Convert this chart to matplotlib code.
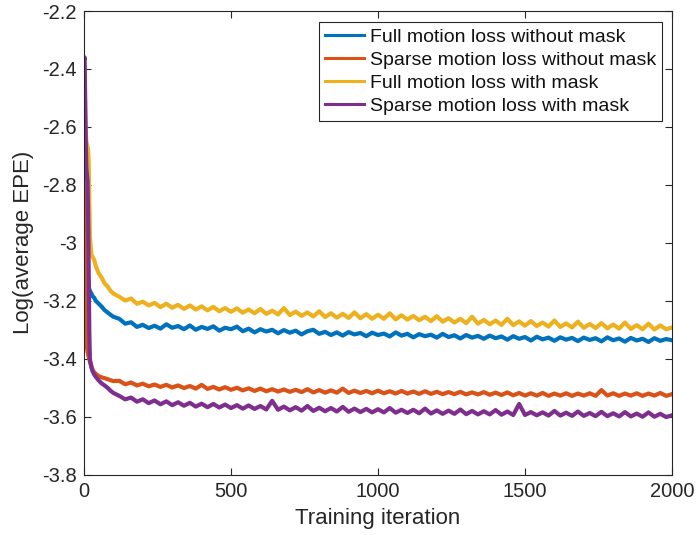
import numpy as np
import matplotlib
matplotlib.use("Agg")
import matplotlib.pyplot as plt
from matplotlib.ticker import FormatStrFormatter

# ---------------- data ----------------
early_iters = [0, 2, 4, 6, 8, 10, 12, 14, 16, 18, 20, 25, 30, 35, 40, 50, 60, 70, 80, 90, 100]
grid_iters = list(range(120, 2001, 20))
iterations = early_iters + grid_iters

full_no_mask_early = [-2.42, -2.55, -2.75, -2.90, -3.00, -3.07, -3.11, -3.13, -3.15, -3.16, -3.165,
                      -3.175, -3.185, -3.19, -3.20, -3.21, -3.22, -3.232, -3.24, -3.248, -3.255]
full_no_mask = [
    -3.262, -3.279, -3.274, -3.290, -3.283, -3.294, -3.286, -3.296, -3.281, -3.293,
    -3.287, -3.298, -3.285, -3.300, -3.290, -3.297, -3.288, -3.303, -3.293, -3.298,
    -3.289, -3.305, -3.296, -3.309, -3.298, -3.306, -3.300, -3.312, -3.301, -3.310,
    -3.303, -3.316, -3.305, -3.300, -3.314, -3.307, -3.318, -3.309, -3.320, -3.308,
    -3.316, -3.311, -3.322, -3.310, -3.318, -3.313, -3.323, -3.309, -3.320, -3.314,
    -3.326, -3.315, -3.322, -3.317, -3.327, -3.314, -3.325, -3.319, -3.330, -3.318,
    -3.327, -3.321, -3.331, -3.320, -3.329, -3.323, -3.334, -3.322, -3.331, -3.325,
    -3.337, -3.324, -3.333, -3.327, -3.338, -3.326, -3.334, -3.328, -3.339, -3.327,
    -3.335, -3.329, -3.340, -3.326, -3.336, -3.330, -3.341, -3.328, -3.337, -3.331,
    -3.342, -3.329, -3.338, -3.332, -3.336]

sparse_no_mask_early = [-2.47, -2.80, -3.10, -3.28, -3.34, -3.36, -3.375, -3.385, -3.395, -3.40, -3.41,
                        -3.425, -3.44, -3.447, -3.452, -3.46, -3.464, -3.467, -3.47, -3.474, -3.477]
sparse_no_mask = [
    -3.476, -3.488, -3.482, -3.492, -3.486, -3.495, -3.489, -3.497, -3.490, -3.499,
    -3.492, -3.501, -3.494, -3.503, -3.490, -3.504, -3.497, -3.506, -3.498, -3.507,
    -3.500, -3.509, -3.502, -3.511, -3.503, -3.512, -3.505, -3.513, -3.506, -3.514,
    -3.507, -3.515, -3.505, -3.516, -3.508, -3.517, -3.509, -3.517, -3.503, -3.518,
    -3.510, -3.518, -3.511, -3.519, -3.510, -3.519, -3.512, -3.520, -3.511, -3.520,
    -3.513, -3.521, -3.512, -3.521, -3.514, -3.522, -3.515, -3.522, -3.514, -3.523,
    -3.516, -3.523, -3.515, -3.524, -3.517, -3.525, -3.516, -3.526, -3.518, -3.527,
    -3.519, -3.527, -3.518, -3.528, -3.520, -3.527, -3.519, -3.528, -3.520, -3.527,
    -3.519, -3.528, -3.508, -3.527, -3.519, -3.528, -3.520, -3.527, -3.519, -3.528,
    -3.520, -3.527, -3.518, -3.528, -3.522]

full_mask_early = [-2.37, -2.45, -2.55, -2.62, -2.65, -2.66, -2.67, -2.68, -2.72, -2.85, -2.98,
                   -3.04, -3.05, -3.06, -3.08, -3.105, -3.12, -3.14, -3.15, -3.165, -3.175]
full_mask = [
    -3.186, -3.199, -3.192, -3.210, -3.203, -3.216, -3.207, -3.222, -3.210, -3.224,
    -3.214, -3.228, -3.216, -3.230, -3.219, -3.233, -3.221, -3.236, -3.225, -3.238,
    -3.226, -3.241, -3.230, -3.243, -3.228, -3.245, -3.234, -3.247, -3.225, -3.249,
    -3.237, -3.252, -3.240, -3.254, -3.236, -3.256, -3.243, -3.258, -3.245, -3.259,
    -3.240, -3.260, -3.246, -3.262, -3.248, -3.262, -3.243, -3.264, -3.250, -3.265,
    -3.252, -3.267, -3.255, -3.270, -3.253, -3.272, -3.260, -3.275, -3.262, -3.277,
    -3.255, -3.279, -3.266, -3.281, -3.268, -3.283, -3.262, -3.284, -3.271, -3.286,
    -3.270, -3.287, -3.275, -3.289, -3.268, -3.290, -3.278, -3.292, -3.272, -3.293,
    -3.280, -3.294, -3.277, -3.295, -3.282, -3.296, -3.275, -3.297, -3.284, -3.298,
    -3.279, -3.299, -3.285, -3.298, -3.292]

sparse_mask_early = [-2.37, -2.36, -2.50, -2.65, -2.74, -2.765, -2.785, -2.90, -3.10, -3.30, -3.40,
                     -3.43, -3.445, -3.455, -3.462, -3.475, -3.485, -3.492, -3.50, -3.51, -3.518]
sparse_mask = [
    -3.528, -3.540, -3.534, -3.548, -3.540, -3.553, -3.544, -3.557, -3.547, -3.560,
    -3.550, -3.562, -3.552, -3.565, -3.555, -3.567, -3.556, -3.568, -3.558, -3.570,
    -3.560, -3.572, -3.561, -3.573, -3.563, -3.575, -3.545, -3.576, -3.565, -3.578,
    -3.567, -3.579, -3.563, -3.580, -3.569, -3.581, -3.570, -3.582, -3.566, -3.583,
    -3.572, -3.584, -3.573, -3.585, -3.574, -3.585, -3.570, -3.586, -3.576, -3.587,
    -3.576, -3.588, -3.572, -3.589, -3.578, -3.590, -3.579, -3.590, -3.575, -3.591,
    -3.580, -3.592, -3.581, -3.592, -3.577, -3.593, -3.582, -3.594, -3.556, -3.594,
    -3.584, -3.595, -3.585, -3.596, -3.580, -3.596, -3.586, -3.597, -3.582, -3.597,
    -3.587, -3.598, -3.583, -3.598, -3.588, -3.599, -3.584, -3.599, -3.589, -3.600,
    -3.585, -3.600, -3.590, -3.601, -3.595]

series_labels = ["Full motion loss without mask", "Sparse motion loss without mask",
                 "Full motion loss with mask", "Sparse motion loss with mask"]
series_values = [full_no_mask_early + full_no_mask,
                 sparse_no_mask_early + sparse_no_mask,
                 full_mask_early + full_mask,
                 sparse_mask_early + sparse_mask]
x_ticks = [0, 500, 1000, 1500, 2000]
y_ticks = [-3.8, -3.6, -3.4, -3.2, -3.0, -2.8, -2.6, -2.4, -2.2]

# ---------------- style ----------------
colors = ["#0072BD", "#D95319", "#EDB120", "#7E2F8E"]
plt.rcParams["font.family"] = ["Liberation Sans", "DejaVu Sans"]
plt.rcParams["axes.unicode_minus"] = False
dark = "#262626"

fig = plt.figure(figsize=(6.97, 5.35), dpi=100)
ax = fig.add_axes([84 / 697, 1 - 474.7 / 535, 588 / 697, 463.7 / 535])

for vals, lab, c in zip(series_values, series_labels, colors):
    ax.plot(iterations, vals, color=c, lw=3.0, label=lab, solid_joinstyle="round")

ax.set_xlim(0, 2000)
ax.set_ylim(-3.8, -2.2)
ax.set_xticks(x_ticks)
ax.set_yticks(y_ticks)
ax.yaxis.set_major_formatter(FormatStrFormatter("%g"))
ax.tick_params(direction="in", length=5, width=0.8, colors=dark, labelsize=14.5,
               top=True, right=True, pad=5)
for s in ax.spines.values():
    s.set_color(dark)
    s.set_linewidth(0.8)

ax.set_xlabel("Training iteration", fontsize=16, color=dark, labelpad=5)
ax.set_ylabel("Log(average EPE)", fontsize=16, color=dark, labelpad=6)

leg = ax.legend(loc="upper right", bbox_to_anchor=(0.983, 0.976), borderaxespad=0,
                fontsize=14, frameon=True, fancybox=False, framealpha=1,
                edgecolor=dark, labelspacing=0.28, handlelength=2.0,
                handletextpad=0.3, borderpad=0.3)
leg.get_frame().set_linewidth(0.8)
for line in leg.get_lines():
    line.set_linewidth(2.2)
for t in leg.get_texts():
    t.set_color("#111111")

fig.savefig("out.png", dpi=100)
